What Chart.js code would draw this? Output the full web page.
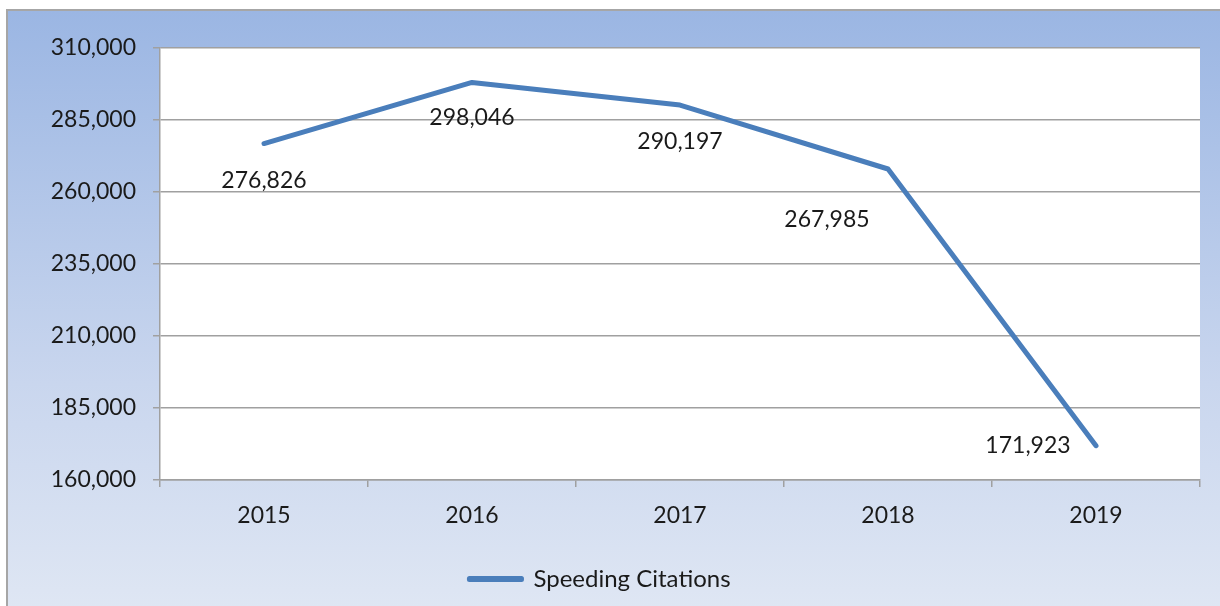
<!DOCTYPE html>
<html>
<head>
<meta charset="utf-8">
<script src="https://cdn.jsdelivr.net/npm/chart.js@4.4.1/dist/chart.umd.min.js"></script>
<style>
  html, body { margin: 0; padding: 0; background: #fff; width: 1220px; height: 606px; overflow: hidden; }
  #frame {
    position: absolute; left: 6px; top: 9px; width: 1230px; height: 620px;
    border: 2px solid #a6a6a6;
    background: linear-gradient(to bottom, #9bb6e3 0%, #c9d6ee 60%, #e1e8f4 100%);
  }
  #wrap { position: absolute; left: 0; top: 0; width: 1220px; height: 606px; }
</style>
</head>
<body>
<div id="frame"></div>
<div id="wrap"><canvas id="chart" width="1220" height="606"></canvas></div>
<script>
// data
const years = ['2015', '2016', '2017', '2018', '2019'];
const citations = [276826, 298046, 290197, 267985, 171923];
const yTicks = [160000, 185000, 210000, 235000, 260000, 285000, 310000];

// where each value label sits relative to its point (Excel-style placement)
const labelOffsets = [[0, 37], [0, 35], [0, 37], [-61, 51], [-68, 0]];

const FONT = 'Lato, "Open Sans", sans-serif';
const fmt = v => v.toLocaleString('en-US');

// white plot area
const plotBg = {
  id: 'plotBg',
  beforeDraw(chart) {
    const a = chart.chartArea;
    chart.ctx.save();
    chart.ctx.fillStyle = '#fff';
    chart.ctx.fillRect(a.left, a.top, a.right - a.left, a.bottom - a.top);
    chart.ctx.restore();
  }
};

const valueLabels = {
  id: 'valueLabels',
  afterDatasetsDraw(chart) {
    const ctx = chart.ctx;
    const meta = chart.getDatasetMeta(0);
    ctx.save();
    ctx.font = '23px ' + FONT;
    ctx.fillStyle = '#1a1a1a';
    ctx.textAlign = 'center';
    ctx.textBaseline = 'middle';
    meta.data.forEach((pt, i) => {
      const off = labelOffsets[i];
      ctx.fillText(fmt(citations[i]), pt.x + off[0], pt.y + off[1]);
    });
    ctx.restore();
  }
};

const ctx = document.getElementById('chart').getContext('2d');
new Chart(ctx, {
  type: 'line',
  data: {
    labels: years,
    datasets: [{
      label: 'Speeding Citations',
      data: citations,
      borderColor: '#4a7ebb',
      backgroundColor: '#4a7ebb',
      borderWidth: 5,
      borderCapStyle: 'round',
      borderJoinStyle: 'round',
      pointRadius: 0,
      tension: 0
    }]
  },
  options: {
    responsive: false,
    animation: false,
    layout: { padding: { left: 0, right: 20, top: 48, bottom: 5 } },
    scales: {
      x: {
        offset: true,
        grid: { offset: true, drawOnChartArea: false, color: '#a0a0a0', tickLength: 7, lineWidth: 1.5 },
        border: { color: '#a0a0a0', width: 1.5 },
        ticks: { color: '#1a1a1a', font: { size: 23, family: FONT }, padding: 15 },
        afterFit: a => { a.height = 75; }
      },
      y: {
        min: 160000, max: 310000,
        afterBuildTicks: a => { a.ticks = yTicks.map(v => ({ value: v })); },
        grid: { color: '#a0a0a0', tickLength: 7, lineWidth: 1.5 },
        border: { color: '#a0a0a0', width: 1.5 },
        ticks: { color: '#1a1a1a', font: { size: 23, family: FONT }, padding: 17, callback: v => fmt(v) },
        afterFit: a => { a.width = 160; }
      }
    },
    plugins: {
      legend: {
        position: 'bottom',
        labels: {
          color: '#1a1a1a',
          font: { size: 24, family: FONT },
          boxWidth: 52,
          boxHeight: 1,
          padding: 12
        }
      },
      tooltip: { enabled: false }
    }
  },
  plugins: [plotBg, valueLabels]
});
</script>
</body>
</html>
